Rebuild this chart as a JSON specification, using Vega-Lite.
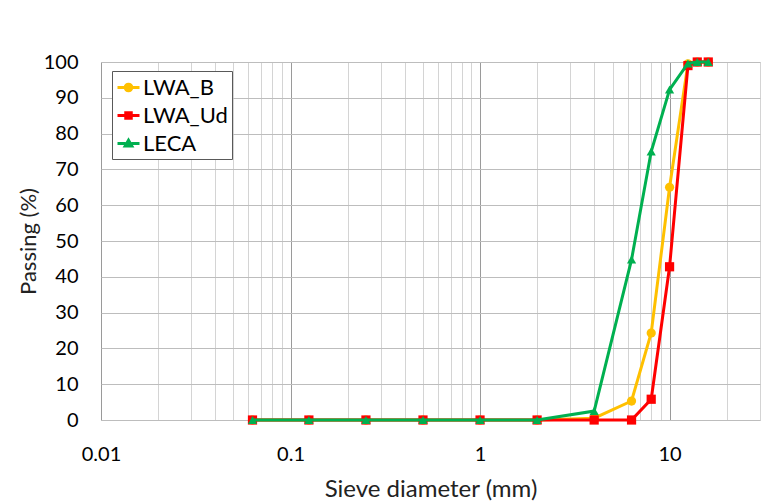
{
  "$schema": "https://vega.github.io/schema/vega-lite/v6.json",
  "width": 659,
  "height": 358,
  "autosize": "none",
  "padding": {"left": 101, "top": 62, "right": 9, "bottom": 84},
  "background": "white",
  "config": {
    "font": "Lato",
    "view": {"stroke": "#d9d9d9", "strokeWidth": 1},
    "axis": {"labelFont": "Lato", "titleFont": "Lato", "labelColor": "#000", "titleColor": "#222", "titleFontWeight": "normal", "domain": false, "ticks": false}
  },
  "data": {
    "values": [
      {"d": 0.063, "p": 0, "s": "LWA_B"},
      {"d": 0.125, "p": 0, "s": "LWA_B"},
      {"d": 0.25, "p": 0, "s": "LWA_B"},
      {"d": 0.5, "p": 0, "s": "LWA_B"},
      {"d": 1, "p": 0, "s": "LWA_B"},
      {"d": 2, "p": 0, "s": "LWA_B"},
      {"d": 4, "p": 0.5, "s": "LWA_B"},
      {"d": 6.3, "p": 5.3, "s": "LWA_B"},
      {"d": 8, "p": 24.3, "s": "LWA_B"},
      {"d": 10, "p": 65, "s": "LWA_B"},
      {"d": 12.5, "p": 99.5, "s": "LWA_B"},
      {"d": 14, "p": 100, "s": "LWA_B"},
      {"d": 16, "p": 100, "s": "LWA_B"},
      {"d": 0.063, "p": 0, "s": "LWA_Ud"},
      {"d": 0.125, "p": 0, "s": "LWA_Ud"},
      {"d": 0.25, "p": 0, "s": "LWA_Ud"},
      {"d": 0.5, "p": 0, "s": "LWA_Ud"},
      {"d": 1, "p": 0, "s": "LWA_Ud"},
      {"d": 2, "p": 0, "s": "LWA_Ud"},
      {"d": 4, "p": 0, "s": "LWA_Ud"},
      {"d": 6.3, "p": 0, "s": "LWA_Ud"},
      {"d": 8, "p": 5.8, "s": "LWA_Ud"},
      {"d": 10, "p": 42.8, "s": "LWA_Ud"},
      {"d": 12.5, "p": 99, "s": "LWA_Ud"},
      {"d": 14, "p": 100, "s": "LWA_Ud"},
      {"d": 16, "p": 100, "s": "LWA_Ud"},
      {"d": 0.063, "p": 0, "s": "LECA"},
      {"d": 0.125, "p": 0, "s": "LECA"},
      {"d": 0.25, "p": 0, "s": "LECA"},
      {"d": 0.5, "p": 0, "s": "LECA"},
      {"d": 1, "p": 0, "s": "LECA"},
      {"d": 2, "p": 0, "s": "LECA"},
      {"d": 4, "p": 2.5, "s": "LECA"},
      {"d": 6.3, "p": 44.8, "s": "LECA"},
      {"d": 8, "p": 75, "s": "LECA"},
      {"d": 10, "p": 92.3, "s": "LECA"},
      {"d": 12.5, "p": 99.6, "s": "LECA"},
      {"d": 14, "p": 100, "s": "LECA"},
      {"d": 16, "p": 100, "s": "LECA"}
    ]
  },
  "encoding": {
    "x": {
      "field": "d", "type": "quantitative",
      "scale": {"type": "log", "domain": [0.01, 30], "nice": false},
      "axis": {
        "title": "Sieve diameter (mm)",
        "titleFontSize": 24, "titlePadding": 13,
        "labelFontSize": 20, "labelPadding": 24, "labelFlush": false,
        "values": [0.01,0.02,0.03,0.04,0.05,0.06,0.07,0.08,0.09,0.1,0.2,0.3,0.4,0.5,0.6,0.7,0.8,0.9,1,2,3,4,5,6,7,8,9,10,20,30],
        "labelExpr": "indexof([0.01,0.1,1,10], datum.value) >= 0 ? format(datum.value, '~g') : ''",
        "grid": true,
        "gridColor": {"condition": {"test": "indexof([0.01,0.1,1,10], datum.value) >= 0", "value": "#9a9a9a"}, "value": "#d4d4d4"},
        "gridWidth": 1
      }
    },
    "y": {
      "field": "p", "type": "quantitative",
      "scale": {"domain": [0, 100], "nice": false},
      "axis": {
        "title": "Passing (%)",
        "titleFontSize": 22, "titlePadding": 3,
        "labelFontSize": 20, "labelPadding": 23,
        "values": [0,10,20,30,40,50,60,70,80,90,100],
        "grid": true, "gridColor": "#bdbdbd", "gridWidth": 1
      }
    },
    "color": {
      "field": "s", "type": "nominal",
      "scale": {"domain": ["LWA_B", "LWA_Ud", "LECA"], "range": ["#FFC000", "#FF0000", "#00B050"]},
      "legend": {
        "title": null,
        "orient": "none", "legendX": 11, "legendY": 9,
        "labelFontSize": 22, "labelFont": "Lato", "labelColor": "#000",
        "strokeColor": "#595959", "fillColor": "white",
        "padding": 4, "rowPadding": 4, "symbolSize": 484, "labelOffset": 2,
        "symbolType": "M-1,0H1",
        "symbolStrokeWidth": 3,
        "encode": {
          "symbols": {
            "update": {
              "shape": {"signal": "datum.value === 'LWA_B' ? 'M-1,0H-0.3M0.3,0H1M-0.3,0A0.3,0.3 0 1 1 0.3,0A0.3,0.3 0 1 1 -0.3,0Z' : datum.value === 'LWA_Ud' ? 'M-1,0H-0.25M0.25,0H1M-0.25,-0.25H0.25V0.25H-0.25Z' : 'M-1,0H-0.28M0.28,0H1M0,-0.3L0.3,0.22H-0.3Z'"},
              "fill": {"signal": "scale('color', datum.value)"},
              "stroke": {"signal": "scale('color', datum.value)"},
              "strokeWidth": {"value": 3},
              "opacity": {"value": 1},
              "fillOpacity": {"value": 1}
            }
          }
        }
      }
    }
  },
  "layer": [
    {
      "transform": [{"filter": "datum.s === 'LWA_B'"}],
      "layer": [
        {"mark": {"type": "line", "strokeWidth": 3}},
        {"mark": {"type": "point", "shape": "circle", "filled": true, "size": 85, "opacity": 1}}
      ]
    },
    {
      "transform": [{"filter": "datum.s === 'LWA_Ud'"}],
      "layer": [
        {"mark": {"type": "line", "strokeWidth": 3}},
        {"mark": {"type": "point", "shape": "square", "filled": true, "size": 85, "opacity": 1}}
      ]
    },
    {
      "transform": [{"filter": "datum.s === 'LECA'"}],
      "layer": [
        {"mark": {"type": "line", "strokeWidth": 3}},
        {"mark": {"type": "point", "shape": "triangle-up", "filled": true, "size": 85, "opacity": 1}}
      ]
    }
  ]
}
